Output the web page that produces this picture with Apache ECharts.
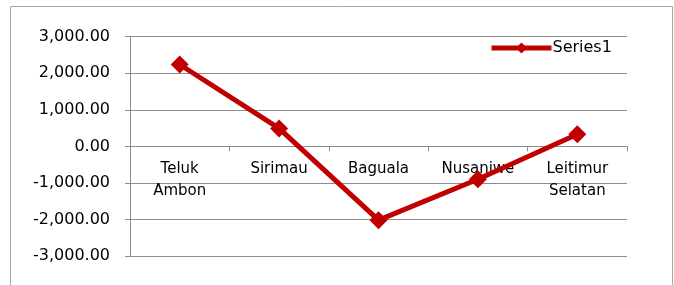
<!DOCTYPE html>
<html>
<head>
<meta charset="utf-8">
<script src="https://cdn.jsdelivr.net/npm/echarts@6/dist/echarts.min.js"></script>
<style>
  html, body { margin: 0; padding: 0; background: #fff; }
  #container { width: 674px; height: 285px; }
</style>
</head>
<body>
<div id="container"></div>
<script>
var categories = ["Teluk\nAmbon", "Sirimau", "Baguala", "Nusaniwe", "Leitimur\nSelatan"];
var series1 = [2240, 490, -2020, -900, 330];
var yMin = -3000;
var yMax = 3000;
var yStep = 1000;

var dom = document.getElementById("container");
var myChart = echarts.init(dom, null, { renderer: "canvas" });

function fmt(v) {
  var s = Math.abs(v).toFixed(2).replace(/\B(?=(\d{3})+(?!\d))/g, ",");
  return (v < 0 ? "-" : "") + s;
}

// plot area
var gridTop = 36.7;
var gridBottom = 29;
var plotH = 285 - gridTop - gridBottom;
// move the category axis up to the zero line (Excel style)
var zeroOffset = -plotH * (0 - yMin) / (yMax - yMin);

var option = {
  animation: false,
  textStyle: { fontFamily: "DejaVu Sans" },
  graphic: [
    {
      type: "rect",
      shape: { x: 10.5, y: 6.5, width: 662, height: 290 },
      style: { fill: "none", stroke: "#a6a6a6", lineWidth: 1 },
    },
  ],
  grid: {
    left: 130,
    right: 47,
    top: gridTop,
    bottom: gridBottom,
    containLabel: false,
    outerBoundsMode: "none",
  },
  legend: {
    left: 484,
    top: 35,
    itemWidth: 60,
    itemHeight: 14,
    itemGap: 2,
    lineStyle: { width: 5 },
    textStyle: { fontSize: 16, color: "#000", padding: [0, 0, 0, -4] },
    data: ["Series1"],
  },
  xAxis: {
    type: "category",
    data: categories,
    offset: zeroOffset,
    axisLine: { onZero: false, lineStyle: { color: "#8c8c8c", width: 1 } },
    axisTick: { show: true, length: 5, lineStyle: { color: "#8c8c8c" } },
    axisLabel: { color: "#000", fontSize: 15, lineHeight: 22, margin: 12 },
    splitLine: { show: false },
  },
  yAxis: {
    type: "value",
    min: yMin,
    max: yMax,
    interval: yStep,
    axisLine: { show: true, lineStyle: { color: "#8c8c8c", width: 1 } },
    axisTick: { show: true, length: 5, lineStyle: { color: "#8c8c8c" } },
    axisLabel: { color: "#000", fontSize: 16, margin: 20, formatter: fmt },
    splitLine: { show: true, lineStyle: { color: "#8c8c8c", width: 1 } },
  },
  series: [
    {
      name: "Series1",
      type: "line",
      data: series1,
      symbol: "diamond",
      symbolSize: 18,
      color: "#C00000",
      lineStyle: { width: 5, color: "#C00000" },
      itemStyle: { color: "#C00000" },
    },
  ],
};

myChart.setOption(option);
window.addEventListener("resize", myChart.resize);
</script>
</body>
</html>
